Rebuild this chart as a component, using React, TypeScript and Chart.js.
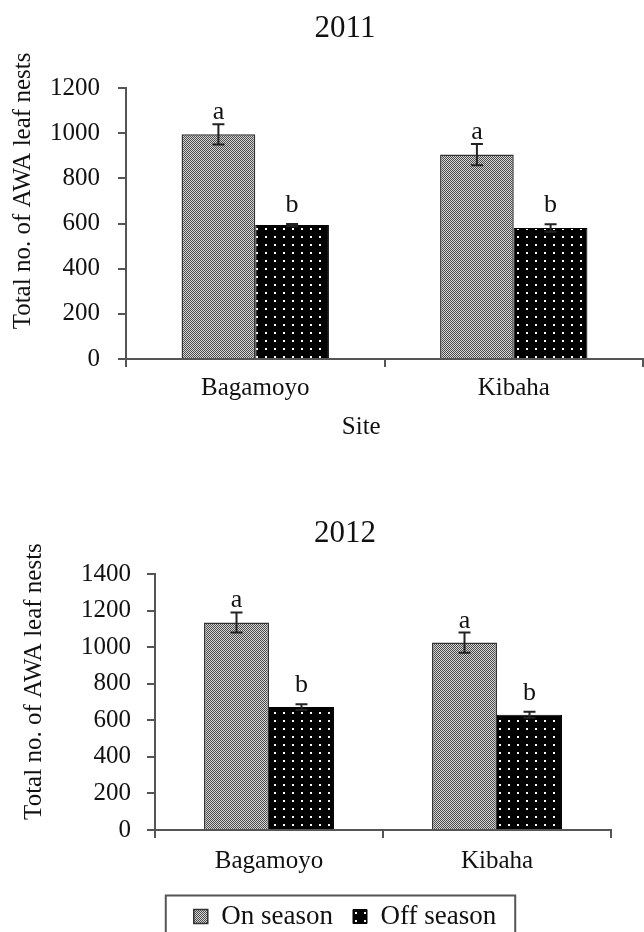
import React, { useEffect, useRef } from 'react';
import { Chart, registerables } from 'chart.js';
Chart.register(...registerables);

const FONT = '"Liberation Serif", "Times New Roman", serif';

const sites = ['Bagamoyo', 'Kibaha'];
const seriesNames = ['On season', 'Off season'];
const onSeason2011 = [995, 905];
const onSeasonErr2011 = [45, 47];
const offSeason2011 = [593, 580];
const offSeasonErr2011 = [5, 17];
const onSeason2012 = [1135, 1025];
const onSeasonErr2012 = [55, 55];
const offSeason2012 = [672, 630];
const offSeasonErr2012 = [16, 16];
const onLetters = ['a', 'a'];
const offLetters = ['b', 'b'];
const yMax2011 = 1200;
const yMax2012 = 1400;
const yStep = 200;
const yTitle = 'Total no. of AWA leaf nests';
const xTitle = 'Site';

function makeOnPattern(): CanvasPattern | string {
  const c = document.createElement('canvas');
  c.width = 2; c.height = 2;
  const g = c.getContext('2d');
  if (!g) return '#999';
  g.fillStyle = '#d8d8d8'; g.fillRect(0, 0, 2, 2);
  g.fillStyle = '#4a4a4a'; g.fillRect(0, 0, 1, 1); g.fillRect(1, 1, 1, 1);
  return g.createPattern(c, 'repeat') || '#999';
}
function makeOffPattern(): CanvasPattern | string {
  const c = document.createElement('canvas');
  c.width = 9; c.height = 8;
  const g = c.getContext('2d');
  if (!g) return '#000';
  g.fillStyle = '#000'; g.fillRect(0, 0, 9, 8);
  g.fillStyle = '#fff'; g.fillRect(4, 4, 2, 2);
  return g.createPattern(c, 'repeat') || '#000';
}

const errorBarPlugin = {
  id: 'errorBars',
  afterDatasetsDraw(chart: any) {
    const ctx = chart.ctx;
    const y = chart.scales.y;
    chart.data.datasets.forEach((ds: any, di: number) => {
      const meta = chart.getDatasetMeta(di);
      meta.data.forEach((bar: any, i: number) => {
        const v = ds.data[i];
        const e = ds.errors[i];
        const top = y.getPixelForValue(v + e);
        const bot = y.getPixelForValue(v - e);
        ctx.save();
        ctx.strokeStyle = '#222';
        ctx.lineWidth = 2;
        ctx.beginPath();
        ctx.moveTo(bar.x, top); ctx.lineTo(bar.x, bot);
        ctx.moveTo(bar.x - 6, top); ctx.lineTo(bar.x + 6, top);
        ctx.moveTo(bar.x - 6, bot); ctx.lineTo(bar.x + 6, bot);
        ctx.stroke();
        ctx.fillStyle = '#111';
        ctx.font = '26px ' + FONT;
        ctx.textAlign = 'center';
        ctx.textBaseline = 'alphabetic';
        ctx.fillText(ds.letters[i], bar.x, top - ds.letterGap);
        ctx.restore();
      });
    });
  },
};

function axisTitlesPlugin(yx: number, yFrac: number, showX: boolean) {
  return {
    id: 'axisTitles',
    afterDraw(chart: any) {
      const { ctx, chartArea } = chart;
      ctx.save();
      ctx.fillStyle = '#111';
      ctx.font = '25px ' + FONT;
      ctx.textAlign = 'center';
      ctx.textBaseline = 'middle';
      const cy = chartArea.top + (chartArea.bottom - chartArea.top) * yFrac;
      ctx.translate(yx, cy);
      ctx.rotate(-Math.PI / 2);
      ctx.fillText(yTitle, 0, 0);
      ctx.restore();
      if (showX) {
        ctx.save();
        ctx.fillStyle = '#111';
        ctx.font = '25px ' + FONT;
        ctx.textAlign = 'center';
        ctx.textBaseline = 'middle';
        const cx = chartArea.left + (chartArea.right - chartArea.left) * 0.455;
        ctx.fillText(xTitle, cx, chartArea.bottom + 68);
        ctx.restore();
      }
    },
  };
}

const legendBoxPlugin = {
  id: 'legendBox',
  afterDraw(chart: any) {
    const lg = chart.legend;
    if (!lg || !lg.legendHitBoxes || !lg.legendHitBoxes.length) return;
    const hb = lg.legendHitBoxes;
    const left = Math.min(...hb.map((h: any) => h.left)) - 28;
    const right = Math.max(...hb.map((h: any) => h.left + h.width)) + 19;
    const top = hb[0].top + hb[0].height / 2 - 21;
    const ctx = chart.ctx;
    ctx.save();
    ctx.strokeStyle = '#555';
    ctx.lineWidth = 2;
    ctx.strokeRect(left, top, right - left, 70);
    ctx.restore();
  },
};

function makeConfig(
  title: string, onVals: number[], onErr: number[], offVals: number[], offErr: number[],
  yMax: number, opts: any
): any {
  const onPat = makeOnPattern();
  const offPat = makeOffPattern();
  return {
    type: 'bar',
    data: {
      labels: sites,
      datasets: [
        {
          label: seriesNames[0], data: onVals, errors: onErr, letters: onLetters, letterGap: 5,
          backgroundColor: onPat, borderColor: '#333', borderWidth: 1.5,
          categoryPercentage: 0.57, barPercentage: 1,
        },
        {
          label: seriesNames[1], data: offVals, errors: offErr, letters: offLetters, letterGap: 12,
          backgroundColor: offPat, borderColor: '#000', borderWidth: 1,
          categoryPercentage: 0.57, barPercentage: 1,
        },
      ],
    },
    options: {
      responsive: false,
      animation: false,
      devicePixelRatio: 1,
      layout: { padding: 0 },
      plugins: {
        tooltip: { enabled: false },
        title: {
          display: true, text: title, color: '#111',
          font: { size: 31, family: FONT, weight: 'normal' },
          padding: opts.titlePad,
        },
        legend: opts.legend
          ? {
              display: true, position: 'bottom',
              labels: {
                color: '#111', boxWidth: 14, boxHeight: 14, padding: 20,
                font: { size: 27, family: FONT },
              },
            }
          : { display: false },
      },
      scales: {
        x: {
          grid: {
            display: true, drawOnChartArea: false, drawTicks: true, tickLength: 8,
            color: '#555', tickColor: '#555', lineWidth: 2, offset: true,
          },
          border: { display: true, color: '#555', width: 2 },
          ticks: { color: '#111', font: { size: 25, family: FONT }, padding: opts.xPad },
          afterFit: (s: any) => { s.height = opts.xHeight; },
        },
        y: {
          min: 0, max: yMax,
          ticks: {
            stepSize: yStep, color: '#111', font: { size: 25, family: FONT }, padding: opts.yPad,
            callback: (v: any) => String(v),
          },
          grid: {
            display: true, drawOnChartArea: false, drawTicks: true, tickLength: 8,
            color: '#555', tickColor: '#555', lineWidth: 2,
          },
          border: { display: true, color: '#555', width: 2 },
          afterFit: (s: any) => { s.width = opts.yWidth; },
        },
        yr: {
          type: 'linear', position: 'right', display: true,
          ticks: { display: false }, grid: { display: false }, border: { display: false },
          afterFit: (s: any) => { s.width = opts.rightWidth; },
        },
      },
    },
    plugins: opts.legend
      ? [errorBarPlugin, axisTitlesPlugin(opts.yTitleX, opts.yFrac, false), legendBoxPlugin]
      : [errorBarPlugin, axisTitlesPlugin(opts.yTitleX, opts.yFrac, true)],
  };
}

export default function App() {
  const ref1 = useRef<HTMLCanvasElement>(null);
  const ref2 = useRef<HTMLCanvasElement>(null);

  useEffect(() => {
    if (!ref1.current || !ref2.current) return;
    const c1 = new Chart(ref1.current, makeConfig(
      '2011', onSeason2011, onSeasonErr2011, offSeason2011, offSeasonErr2011, yMax2011,
      {
        titlePad: { top: 10, bottom: 40.8 }, legend: false, xPad: 6.5, xHeight: 83,
        yPad: 18, yWidth: 126, rightWidth: 47, yTitleX: 23, yFrac: 0.38,
      }
    ));
    const c2 = new Chart(ref2.current, makeConfig(
      '2012', onSeason2012, onSeasonErr2012, offSeason2012, offSeasonErr2012, yMax2012,
      {
        titlePad: { top: 55, bottom: 21.8 }, legend: true, xPad: 8.5, xHeight: 53,
        yPad: 16, yWidth: 155, rightWidth: 79, yTitleX: 34, yFrac: 0.42,
      }
    ));
    return () => { c1.destroy(); c2.destroy(); };
  }, []);

  return (
    <div style={{ position: 'absolute', left: 0, top: 0, width: 644, height: 932, overflow: 'hidden', background: '#fff' }}>
      <canvas ref={ref1} width={690} height={442}
        style={{ position: 'absolute', left: 0, top: 0, width: 690, height: 442 }} />
      <canvas ref={ref2} width={690} height={480}
        style={{ position: 'absolute', left: 0, top: 460, width: 690, height: 480 }} />
    </div>
  );
}
